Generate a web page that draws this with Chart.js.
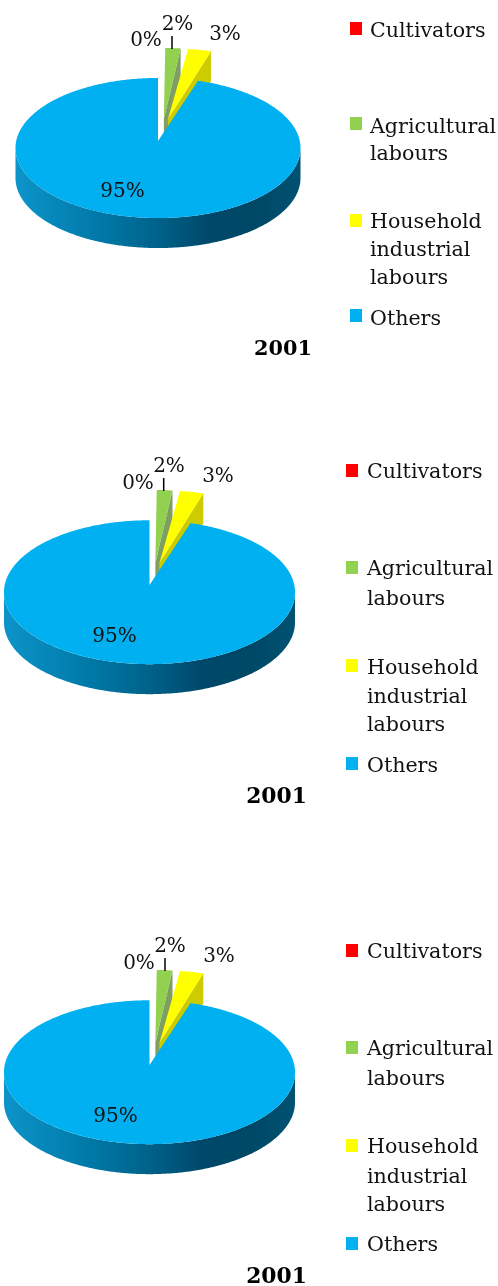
<!DOCTYPE html>
<html>
<head>
<meta charset="utf-8">
<script src="https://cdn.jsdelivr.net/npm/chart.js@4"></script>
<style>
  html, body { margin: 0; padding: 0; background: #fff; }
  body { position: relative; width: 498px; height: 1286px; overflow: hidden; }
  canvas { position: absolute; left: 0; display: block; }
</style>
</head>
<body>
<canvas id="pieA" width="498" height="430"></canvas>
<canvas id="pieB" width="498" height="480"></canvas>
<canvas id="pieC" width="498" height="376"></canvas>
<script>
// Workforce shares, one pie per panel
const categories = ['Cultivators', ['Agricultural', 'labours'], ['Household', 'industrial', 'labours'], 'Others'];
const shares = [0, 2, 3, 95];
const yearLabel = '2001';
const sliceColors = ['#FF0000', '#92D050', '#FFFF00', '#00B0F0'];
const edgeColors = ['#B00000', '#7F9F62', '#CCCC00', '#0080B0'];
const explode = [0, 78, 78, 0];

const FONT = '"DejaVu Serif", serif';
const DEPTH = 30;       // extrusion height of the pie, px
const PERSP = 0.1;      // strength of the perspective foreshortening
const APEX_PULL = 0.6;  // share of the explode distance applied at a slice's tip
const SIDE_NUDGE = [0, 3, 0, 0]; // sideways correction of pulled-out slices, px

// Per-panel placement in canvas coordinates
const panels = [
  { id: 'pieA', top: 0, height: 430, cx: 158, cy: 141, radius: 141.8, tilt: 0.489,
    pct: [[146, 46], [177.5, 30], [225, 40], [122.5, 197]], leader: [172, 36, 49],
    swatchX: 350, textX: 370,
    rows: [{ box: 22, lines: [37] }, { box: 117, lines: [133, 160] }, { box: 214, lines: [228, 256, 284] }, { box: 309, lines: [325] }],
    title: [283, 355], titleSize: 20.8 },
  { id: 'pieB', top: 430, height: 480, cx: 149.5, cy: 155, radius: 144.8, tilt: 0.492,
    pct: [[138, 59], [169, 42], [218, 52], [114.5, 212]], leader: [163.7, 48, 61],
    swatchX: 346, textX: 367,
    rows: [{ box: 34, lines: [48] }, { box: 131, lines: [145, 175] }, { box: 229, lines: [244, 273, 301] }, { box: 327, lines: [342] }],
    title: [276.5, 373], titleSize: 21.8 },
  { id: 'pieC', top: 910, height: 376, cx: 149.5, cy: 155, radius: 144.8, tilt: 0.492,
    pct: [[139, 59], [170, 42], [219, 52], [115.5, 212]], leader: [165, 48, 61],
    swatchX: 346, textX: 367,
    rows: [{ box: 34, lines: [48] }, { box: 131, lines: [145, 175] }, { box: 229, lines: [243, 273, 301] }, { box: 327, lines: [341] }],
    title: [276.5, 373], titleSize: 21.8 }
];

// Map a point on the pie's disc (in radius units) to the screen with foreshortening
function projector(arc, tilt) {
  return (u, v) => {
    const s = 1 / (1 - PERSP * v);
    return [arc.x + arc.outerRadius * u * s, arc.y + arc.outerRadius * tilt * v * s];
  };
}

function polygon(ctx, points, fill) {
  ctx.beginPath();
  points.forEach((p, i) => (i ? ctx.lineTo(p[0], p[1]) : ctx.moveTo(p[0], p[1])));
  ctx.closePath();
  ctx.fillStyle = fill;
  ctx.fill();
}

function rimGradient(ctx, arc) {
  const g = ctx.createLinearGradient(arc.x - arc.outerRadius, 0, arc.x + arc.outerRadius, 0);
  g.addColorStop(0, '#0C94CA');
  g.addColorStop(0.3, '#0078A6');
  g.addColorStop(0.5, '#00628A');
  g.addColorStop(0.68, '#00486A');
  g.addColorStop(0.85, '#004866');
  g.addColorStop(1, '#005272');
  return g;
}

// Draws each arc element as an extruded slice, from the geometry the doughnut controller computed
const pie3d = {
  id: 'pie3d',
  beforeDatasetsDraw(chart, args, opts) {
    const ctx = chart.ctx;
    const arcs = chart.getDatasetMeta(0).data;
    arcs.forEach((arc, i) => {
      if (arc.endAngle - arc.startAngle <= 0) return;
      const project = projector(arc, opts.tilt);
      const mid = (arc.startAngle + arc.endAngle) / 2;
      const off = (arc.options.offset || 0) / arc.outerRadius;
      const ou = Math.cos(mid) * off;
      const ov = Math.sin(mid) * off;
      const nudge = (p) => [p[0] + SIDE_NUDGE[i], p[1]];
      const at = (a) => nudge(project(ou + Math.cos(a), ov + Math.sin(a)));
      const apex = nudge(project(ou * APEX_PULL, ov * APEX_PULL));
      const drop = (p) => [p[0], p[1] + DEPTH];

      // Radial side wall on the slices pulled out of the pie
      if (off > 0) {
        const rim = at(arc.endAngle);
        polygon(ctx, [apex, rim, drop(rim), drop(apex)], edgeColors[i]);
      }

      // Curved front wall, between the silhouette points of the disc
      const from = Math.max(arc.startAngle, Math.asin(PERSP));
      const to = Math.min(arc.endAngle, Math.PI - Math.asin(PERSP));
      if (to > from) {
        const top = [];
        for (let a = from; a < to; a += 0.01) top.push(at(a));
        top.push(at(to));
        const wall = top.concat(top.slice().reverse().map(drop));
        polygon(ctx, wall, rimGradient(ctx, arc));
      }

      // Top face
      const face = [apex];
      for (let a = arc.startAngle; a < arc.endAngle; a += 0.01) face.push(at(a));
      face.push(at(arc.endAngle));
      polygon(ctx, face, arc.options.backgroundColor);
    });
    return false;
  },
  afterDraw(chart, args, opts) {
    const ctx = chart.ctx;
    ctx.save();
    ctx.textBaseline = 'alphabetic';

    // Percentage labels and the leader line of the 2% slice
    ctx.fillStyle = '#111';
    ctx.font = '20px ' + FONT;
    ctx.textAlign = 'center';
    chart.data.datasets[0].data.forEach((v, i) => {
      ctx.fillText(v + '%', opts.pct[i][0], opts.pct[i][1]);
    });
    ctx.strokeStyle = '#000';
    ctx.lineWidth = 1.5;
    ctx.beginPath();
    ctx.moveTo(opts.leader[0], opts.leader[1]);
    ctx.lineTo(opts.leader[0], opts.leader[2]);
    ctx.stroke();

    // Legend at the right
    ctx.textAlign = 'left';
    ctx.font = '20.6px ' + FONT;
    chart.data.labels.forEach((label, i) => {
      const row = opts.rows[i];
      ctx.fillStyle = sliceColors[i];
      ctx.fillRect(opts.swatchX, row.box, 12, 13);
      ctx.fillStyle = '#111';
      [].concat(label).forEach((line, j) => ctx.fillText(line, opts.textX, row.lines[j]));
    });

    // Year caption
    ctx.font = 'bold ' + opts.titleSize + 'px ' + FONT;
    ctx.textAlign = 'center';
    ctx.fillStyle = '#000';
    ctx.fillText(yearLabel, opts.title[0], opts.title[1]);
    ctx.restore();
  }
};

panels.forEach((p) => {
  const canvas = document.getElementById(p.id);
  canvas.style.top = p.top + 'px';
  new Chart(canvas, {
    type: 'pie',
    data: {
      labels: categories,
      datasets: [{ data: shares, backgroundColor: sliceColors, borderWidth: 0, offset: explode }]
    },
    options: {
      responsive: false,
      animation: false,
      radius: p.radius,
      layout: { padding: { left: 0, top: 0, right: 498 - 2 * p.cx, bottom: p.height - 2 * p.cy } },
      plugins: {
        legend: { display: false },
        tooltip: { enabled: false },
        pie3d: p
      }
    },
    plugins: [pie3d]
  });
});
</script>
</body>
</html>
